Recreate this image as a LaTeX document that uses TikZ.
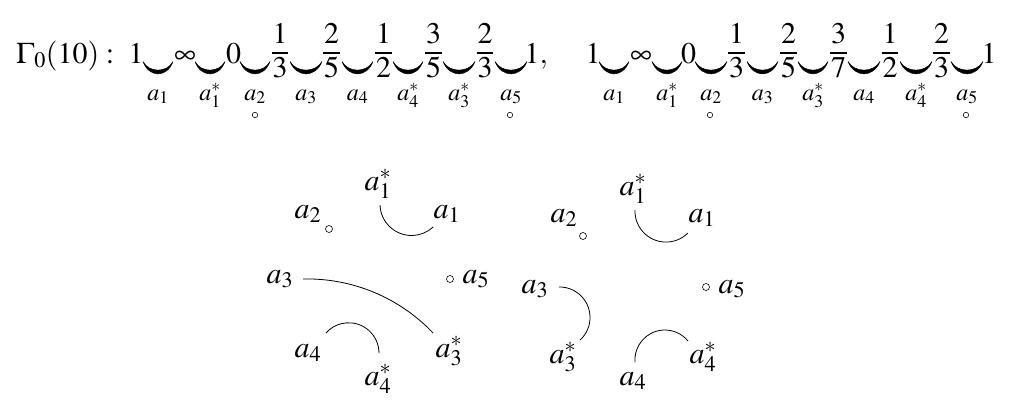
\documentclass[tikz,border=0pt]{standalone}
\usepackage{amsmath}
\usepackage{mathptmx}
\begin{document}
\begin{tikzpicture}[x=1pt,y=-1pt,
  val/.style={inner sep=0pt, anchor=base, font=\fontsize{30}{36}\selectfont},
  sublbl/.style={inner sep=0pt, anchor=base, font=\fontsize{24}{28}\selectfont},
  lbl/.style={inner sep=0pt, anchor=base, font=\fontsize{30}{36}\selectfont},
  subdot/.style={circle, draw, inner sep=0pt, minimum size=5.5pt, line width=0.55pt},
  dot/.style={circle, draw, inner sep=0pt, minimum size=7pt, line width=0.6pt},
  smilemark/.style={fill=black, draw=black, line width=0.5pt, line join=round},
  fracbar/.style={line width=1.1pt},
  arcline/.style={line width=0.8pt}]
\useasboundingbox (0,0) rectangle (1013,402);
% ---- top row: values
\node[val, anchor=base west] (gam) at (16,63) {$\Gamma_0(10):$};
\node[val] (v1) at (136,63) {$1$};
\node[val] (v2) at (185,63) {$\infty$};
\node[val] (v3) at (233.5,63) {$0$};
\node[val, anchor=base west] (v4) at (524.5,63) {$1,$};
\node[val] (w1) at (593,63) {$1$};
\node[val] (w2) at (641,63) {$\infty$};
\node[val] (w3) at (688.5,63) {$0$};
\node[val] (w4) at (989,63) {$1$};
% ---- fractions
\foreach \cx/\nn/\dd [count=\i] in {280/1/3, 331.5/2/5, 383.5/1/2, 433.5/3/5, 485/2/3,
                                  736.5/1/3, 788.5/2/5, 838.5/3/7, 890/1/2, 941.5/2/3} {
  \node[val] (fn\i) at (\cx,43) {$\nn$};
  \node[val] (fd\i) at (\cx,77) {$\dd$};
  \draw[fracbar] ({\cx-8.3},53) -- ({\cx+8.3},53);
}
% ---- smiles with labels
\foreach \xa/\xb/\lab [count=\i] in {143/173/{a_1}, 195/225/{a_1^*}, 240/270/{a_2}, 290/322/{a_3},
    342/373/{a_4}, 393/423/{a_4^*}, 443/475/{a_3^*}, 495/527/{a_5},
    599/629/{a_1}, 652/682/{a_1^*}, 695/727/{a_2}, 747/778/{a_3},
    798/828/{a_3^*}, 848/880/{a_4}, 900/932/{a_4^*}, 951/983/{a_5}} {
  \filldraw[smilemark] (\xa,61.5) .. controls ({\xa+0.2*(\xb-\xa)},78) and ({\xb-0.2*(\xb-\xa)},78) .. (\xb,61.5)
     .. controls ({\xb-0.2*(\xb-\xa)},73) and ({\xa+0.2*(\xb-\xa)},73) .. cycle;
  \node[sublbl] (s\i) at ({(\xa+\xb)/2},100) {$\lab$};
}
\node[subdot] (so1) at (255,115) {};
\node[subdot] (so2) at (510,115) {};
\node[subdot] (so3) at (710,115) {};
\node[subdot] (so4) at (966,115) {};
% ---- left diagram
\node[lbl] (La1s) at (378,190) {$a_1^*$};
\node[lbl] (La1) at (447,218) {$a_1$};
\node[lbl] (La2) at (308,218) {$a_2$};
\node[dot] (Lo2) at (329,229) {};
\node[lbl] (La3) at (280,283) {$a_3$};
\node[dot] (Lo5) at (450,279) {};
\node[lbl] (La5) at (476,283) {$a_5$};
\node[lbl] (La4) at (308,357) {$a_4$};
\node[lbl] (La3s) at (449,357) {$a_3^*$};
\node[lbl] (La4s) at (378,385) {$a_4^*$};
\coordinate (Le1) at (380,205);
\coordinate (Le2) at (303,279);
\coordinate (Le3) at (326,333);
\draw[arcline] (Le1) arc[start angle=-182, end angle=-313, radius=31.6];
\draw[arcline] (Le2) arc[start angle=-91.4, end angle=-43.5, radius=173.5];
\draw[arcline] (Le3) arc[start angle=-138.5, end angle=0, radius=30.3];
% ---- right diagram
\node[lbl] (Ra1s) at (633,195) {$a_1^*$};
\node[lbl] (Ra2) at (564,222) {$a_2$};
\node[dot] (Ro2) at (583,236) {};
\node[lbl] (Ra1) at (702,222) {$a_1$};
\node[lbl] (Ra3) at (535,293) {$a_3$};
\node[dot] (Ro5) at (706,287) {};
\node[lbl] (Ra5) at (732,293) {$a_5$};
\node[lbl] (Ra3s) at (563,363) {$a_3^*$};
\node[lbl] (Ra4s) at (703,363) {$a_4^*$};
\node[lbl] (Ra4) at (633,385) {$a_4$};
\coordinate (Re1) at (635,210);
\coordinate (Re2) at (559,287);
\coordinate (Re3) at (635,362);
\draw[arcline] (Re1) arc[start angle=-178, end angle=-315, radius=31];
\draw[arcline] (Re2) arc[start angle=-91, end angle=48, radius=30.5];
\draw[arcline] (Re3) arc[start angle=-184, end angle=-39, radius=29.9];
\end{tikzpicture}
\end{document}
